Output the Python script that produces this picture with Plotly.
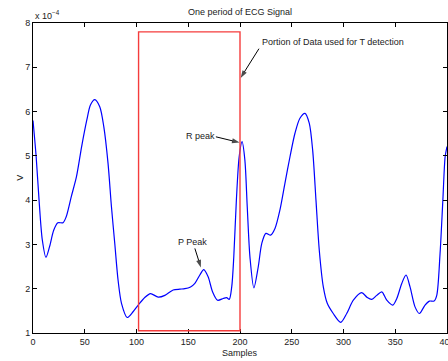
import plotly.graph_objects as go

# ECG samples (values in units of 1e-4 V)
samples = [0, 3, 6, 9, 12.5, 16, 20, 24, 29, 32, 37, 42, 47, 52, 55.5, 59.7, 64.5, 68.4,
           72.5, 75.8, 79, 82.2, 85.5, 91, 96.7, 102, 108, 113.5, 121, 127.4, 135.4, 141.9,
           146.7, 152.2, 156.4, 161.2, 165, 169.2, 173.5, 178.3, 183.8, 187, 189.6, 192,
           194, 196.5, 199.2, 202, 204.7, 207, 209.6, 213.4, 217.6, 221, 225, 229.6, 233.8,
           238.6, 243.4, 248.3, 253.1, 257.9, 262.8, 266.9, 270.2, 273.4, 276.6, 280.5,
           284.3, 290.1, 297.3, 303.1, 309.5, 317.6, 323, 327.3, 332.1, 337, 341.8, 347.6,
           351.5, 356.3, 360.4, 364.3, 369.1, 373.3, 378.8, 383, 387.5, 390.1, 393.3, 396,
           398.2, 400]
voltage = [5.8, 5.0, 3.95, 3.1, 2.71, 2.95, 3.32, 3.49, 3.49, 3.62, 4.08, 4.53, 5.21, 5.81,
           6.15, 6.27, 6.11, 5.66, 4.83, 3.85, 3.02, 2.19, 1.67, 1.35, 1.48, 1.64, 1.80, 1.89,
           1.81, 1.85, 1.97, 1.99, 2.0, 2.04, 2.12, 2.31, 2.43, 2.27, 1.93, 1.74, 1.78, 1.80,
           1.76, 2.04, 2.72, 4.0, 4.98, 5.32, 4.91, 3.85, 2.72, 2.02, 2.49, 3.02, 3.25, 3.21,
           3.36, 3.78, 4.38, 4.98, 5.51, 5.85, 5.96, 5.74, 5.13, 4.0, 2.87, 2.04, 1.67, 1.44,
           1.24, 1.44, 1.74, 1.91, 1.80, 1.76, 1.85, 1.93, 1.74, 1.63, 1.78, 2.12, 2.31, 2.04,
           1.59, 1.44, 1.63, 1.72, 1.72, 1.85, 2.8, 4.0, 4.98, 5.21]

x_ticks = [0, 50, 100, 150, 200, 250, 300, 350, 400]
y_ticks = [1, 2, 3, 4, 5, 6, 7, 8]

# Portion of data used for T detection
box_x = [102, 200]
box_y = [1.05, 7.8]

title_text = "One period of ECG Signal"
x_label = "Samples"
y_label = "V"

# annotation arrows: (tail, head) in data units
arrow_portion = [(218.3, 7.42), (200.6, 6.76)]
arrow_r = [(176.7, 5.43), (199.6, 5.30)]
arrow_p = [(156.4, 2.91), (162.2, 2.48)]

FONT = "Liberation Sans, Arial, sans-serif"

fig = go.Figure()
fig.add_trace(go.Scatter(x=samples, y=voltage, mode="lines",
                         line=dict(color="rgb(0,0,255)", width=1.2, shape="spline", smoothing=0.8),
                         hoverinfo="skip", showlegend=False))

for arr in (arrow_portion, arrow_r, arrow_p):
    fig.add_trace(go.Scatter(x=[p[0] for p in arr], y=[p[1] for p in arr], mode="lines+markers",
                             line=dict(color="black", width=1),
                             marker=dict(symbol="arrow", size=[0, 8], color="black",
                                         angleref="previous", line=dict(width=0)),
                             hoverinfo="skip", showlegend=False, cliponaxis=False))

fig.add_shape(type="rect", x0=box_x[0], x1=box_x[1], y0=box_y[0], y1=box_y[1],
              xref="x", yref="y", line=dict(color="rgb(245,60,60)", width=1.4))

axis_common = dict(showline=True, linecolor="black", linewidth=1, mirror="ticks",
                   ticks="inside", ticklen=4, tickcolor="black", showgrid=False,
                   zeroline=False, ticklabeloverflow="allow", automargin=False,
                   tickfont=dict(family=FONT, size=9, color="#222"))
fig.update_xaxes(range=[0, 400], tickvals=x_ticks, **axis_common)
fig.update_yaxes(range=[1, 8], tickvals=y_ticks, **axis_common)

anns = [
    dict(text=title_text, xref="paper", yref="paper", x=0.5, y=1, yanchor="bottom",
         yshift=4, showarrow=False, font=dict(size=9)),
    dict(text="x 10<sup>−4</sup>", xref="paper", yref="paper", x=0, y=1, xanchor="left",
         yanchor="bottom", yshift=0, showarrow=False, font=dict(size=9)),
    dict(text=x_label, xref="paper", yref="paper", x=0.5, y=-0.0656, yanchor="middle",
         showarrow=False, font=dict(size=9)),
    dict(text=y_label, xref="paper", yref="paper", x=-0.049, y=0.5, textangle=-90,
         showarrow=False, font=dict(size=9)),
    dict(text="Portion of Data used for T detection", xref="x", yref="y", x=219.2, y=7.56,
         xanchor="left", yanchor="middle", showarrow=False, font=dict(size=9)),
    dict(text="R peak", xref="x", yref="y", x=162, y=5.45, showarrow=False, font=dict(size=9)),
    dict(text="P Peak", xref="x", yref="y", x=154.4, y=3.06, showarrow=False, font=dict(size=9)),
]

fig.update_layout(width=448, height=361, margin=dict(l=33, r=1, t=23, b=28),
                  plot_bgcolor="white", paper_bgcolor="white",
                  font=dict(family=FONT, size=9, color="#222"),
                  annotations=anns)

fig.write_html("out.html", config={"displayModeBar": False},
               post_script="document.body.style.margin='0';document.body.style.overflow='hidden';")
